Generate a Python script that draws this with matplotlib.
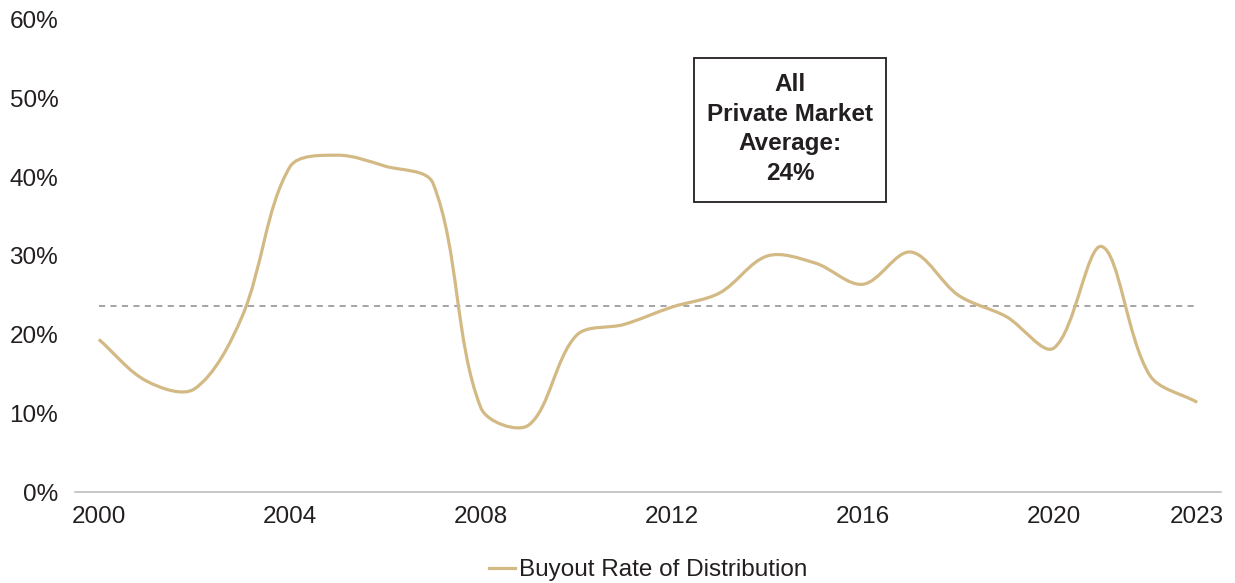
import numpy as np
import matplotlib
matplotlib.use("Agg")
from matplotlib import pyplot as plt
from matplotlib.path import Path
from matplotlib.patches import PathPatch, Rectangle
from matplotlib.lines import Line2D

plt.rcParams['font.family'] = ['Liberation Sans', 'DejaVu Sans']

years = list(range(2000, 2024))
buyout_rate = [19.4, 14.1, 13.1, 22.3, 41.3, 42.8, 41.4, 39.2, 10.7, 8.5,
               19.9, 21.3, 23.5, 25.3, 30.0, 29.1, 26.4, 30.5, 25.0, 22.3,
               18.3, 31.2, 14.9, 11.4]
private_avg = 23.6
tick_years = [2000, 2004, 2008, 2012, 2016, 2020, 2023]
y_ticks = [0, 10, 20, 30, 40, 50, 60]

LINE_COLOR = '#D3BA85'
TEXT_COLOR = '#231F20'
FS = 17.5


def smooth_path(ax, x, y):
    # excel-like smoothing: bezier handles along (next - prev), sized by
    # the on-screen length of neighbouring segments so steep drops don't overshoot
    pts = np.column_stack([x, y]).astype(float)
    scr = ax.transData.transform(pts)
    n = len(pts)
    seg = np.hypot(*np.diff(scr, axis=0).T)
    verts = [pts[0]]
    codes = [Path.MOVETO]
    for i in range(n - 1):
        p0 = pts[i - 1] if i > 0 else pts[i]
        p3 = pts[i + 2] if i + 2 < n else pts[i + 1]
        p1, p2 = pts[i], pts[i + 1]
        d01 = seg[i - 1] if i > 0 else 0.0
        d12 = seg[i]
        d23 = seg[i + 1] if i + 2 < n else 0.0
        c1 = p1 + (p2 - p0) * d12 / (d01 + d12) / 3.0
        c2 = p2 - (p3 - p1) * d12 / (d12 + d23) / 3.0
        verts += [c1, c2, p2]
        codes += [Path.CURVE4] * 3
    return Path(verts, codes)


fig = plt.figure(figsize=(12.35, 5.83), dpi=100)
ax = fig.add_axes([0.0607, 0.156, 0.928, 0.81])

idx = np.arange(len(years))
ax.set_xlim(-0.5, len(years) - 0.5)
ax.set_ylim(0, 60)

ax.add_patch(PathPatch(smooth_path(ax, idx, buyout_rate), facecolor='none',
                       edgecolor=LINE_COLOR, lw=2.3, capstyle='butt', zorder=3))
ax.plot([idx[0], idx[-1]], [private_avg, private_avg], ls=(0, (4, 3.5)),
        color='#8C8C8C', lw=1.1, zorder=2)

ax.set_xticks([years.index(y) for y in tick_years])
ax.set_xticklabels([str(y) for y in tick_years])
ax.set_yticks(y_ticks)
ax.set_yticklabels(['%d%%' % v for v in y_ticks])
ax.tick_params(axis='both', length=0, labelsize=FS, labelcolor=TEXT_COLOR)
ax.tick_params(axis='y', pad=12)
ax.tick_params(axis='x', pad=10)

for side in ['top', 'right', 'left']:
    ax.spines[side].set_visible(False)
ax.spines['bottom'].set_color('#BFBFBF')
ax.spines['bottom'].set_linewidth(1.2)

# annotation box
fig.patches.append(Rectangle((694 / 1235, 1 - 202 / 583), 192 / 1235, 144 / 583,
                             transform=fig.transFigure, facecolor='white',
                             edgecolor=TEXT_COLOR, lw=1.3, zorder=5))
fig.text(790 / 1235, 1 - 129 / 583, 'All\nPrivate Market\nAverage:\n24%',
         ha='center', va='center', fontsize=FS, fontweight='bold', color=TEXT_COLOR,
         linespacing=1.38, zorder=6)

handle = Line2D([], [], color=LINE_COLOR, lw=2.3)
fig.legend([handle], ['Buyout Rate of Distribution'], loc='center',
           bbox_to_anchor=(0.525, 0.022), frameon=False, fontsize=FS,
           handlelength=1.05, handletextpad=0.2, labelcolor=TEXT_COLOR)

fig.savefig('out.png', dpi=100)
